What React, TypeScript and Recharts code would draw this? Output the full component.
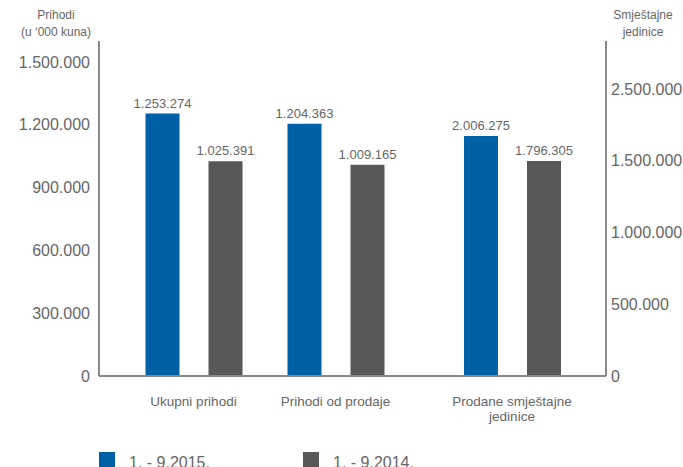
import { BarChart, Bar, XAxis, YAxis, Legend, LabelList, Text } from "recharts"

// Kategorije i vrijednosti (prihodi u '000 kuna, smještajne jedinice)
const categories = ["Ukupni prihodi", "Prihodi od prodaje", "Prodane smještajne jedinice"]
const revenue2015 = [1253274, 1204363, null]
const revenue2014 = [1025391, 1009165, null]
const units2015 = [null, null, 2006275]
const units2014 = [null, null, 1796305]
const seriesNames = ["1. - 9.2015.", "1. - 9.2014."]

const leftTicks = [0, 300000, 600000, 900000, 1200000, 1500000]
const rightTicks = [0, 600000, 1200000, 1800000, 2400000]
const rightTickLabels = ["0", "500.000", "1.000.000", "1.500.000", "2.500.000"]

const data = categories.map((name, i) => ({
  name,
  rev2015: revenue2015[i],
  rev2014: revenue2014[i],
  units2015: units2015[i],
  units2014: units2014[i],
}))

const FONT = '"Liberation Sans", Arial, sans-serif'
const TEXT = "#666"
const AXIS = "#888"
const BLUE = "#0060a6"
const GRAY = "#58585a"

const fmt = (v: number | null | undefined) =>
  v == null ? "" : String(v).replace(/\B(?=(\d{3})+(?!\d))/g, ".")

function CategoryTick(props: any) {
  const { x, y, payload, values } = props
  const i = categories.indexOf(payload.value)
  if (values[i] == null) return null
  return (
    <Text
      x={x}
      y={y}
      width={150}
      textAnchor="middle"
      verticalAnchor="start"
      lineHeight={15}
      fill={TEXT}
      style={{ fontSize: 13.5, fontFamily: FONT }}
    >
      {payload.value}
    </Text>
  )
}

function LegendContent(props: any) {
  const items = (props.payload || [])
    .filter((e: any) => seriesNames.includes(e.value))
    .sort((a: any, b: any) => seriesNames.indexOf(a.value) - seriesNames.indexOf(b.value))
  return (
    <div style={{ display: "flex", fontFamily: FONT, fontSize: 16, color: TEXT }}>
      {items.map((e: any) => (
        <div key={e.value} style={{ display: "flex", alignItems: "flex-start", width: 204 }}>
          <span style={{ width: 16, height: 16, background: e.color, marginRight: 14, flex: "none" }} />
          <span style={{ paddingTop: 2, lineHeight: "18px" }}>{e.value}</span>
        </div>
      ))}
    </div>
  )
}

export default function App() {
  return (
    <div
      style={{
        position: "absolute",
        left: 0,
        top: 0,
        width: 683,
        height: 467,
        overflow: "hidden",
        background: "#fff",
        fontFamily: FONT,
      }}
    >
      <div style={{ position: "absolute", left: 0, top: 7, width: 112, textAlign: "center", fontSize: 12, lineHeight: "17px", color: TEXT }}>
        Prihodi
        <br />
        (u ‘000 kuna)
      </div>
      <div style={{ position: "absolute", left: 603, top: 7, width: 80, textAlign: "center", fontSize: 12, lineHeight: "17px", color: TEXT }}>
        Smještajne
        <br />
        jedinice
      </div>

      <BarChart
        width={683}
        height={467}
        data={data}
        margin={{ top: 41, right: 1, left: 9, bottom: 89 }}
        barGap={29}
      >
        <XAxis
          xAxisId="rev"
          dataKey="name"
          height={1}
          padding={{ left: 23.5, right: 57.5 }}
          axisLine={{ stroke: AXIS, strokeWidth: 2 }}
          tickLine={false}
          tickSize={0}
          tickMargin={20}
          interval={0}
          tick={(p: any) => <CategoryTick {...p} values={revenue2015} />}
        />
        <XAxis
          xAxisId="units"
          dataKey="name"
          height={1}
          padding={{ left: 58, right: 23 }}
          axisLine={false}
          tickLine={false}
          tickSize={0}
          tickMargin={19}
          interval={0}
          tick={(p: any) => <CategoryTick {...p} values={units2015} />}
        />
        <YAxis
          yAxisId="left"
          width={90}
          domain={[0, 1600000]}
          ticks={leftTicks}
          interval={0}
          axisLine={{ stroke: AXIS, strokeWidth: 2 }}
          tickLine={false}
          tickSize={0}
          tickMargin={9}
          tick={{ fill: TEXT, fontSize: 16, fontFamily: FONT }}
          tickFormatter={(v: number) => fmt(v)}
        />
        <YAxis
          yAxisId="right"
          orientation="right"
          width={76}
          domain={[0, 2800000]}
          ticks={rightTicks}
          interval={0}
          axisLine={{ stroke: AXIS, strokeWidth: 2 }}
          tickLine={false}
          tickSize={0}
          tickMargin={5}
          tick={{ fill: TEXT, fontSize: 16, fontFamily: FONT }}
          tickFormatter={(v: number) => rightTickLabels[rightTicks.indexOf(v)]}
        />
        <Legend
          layout="horizontal"
          verticalAlign="middle"
          align="center"
          wrapperStyle={{ top: 452, left: 99, width: "auto", height: "auto" }}
          content={(p: any) => <LegendContent {...p} />}
        />
        <Bar xAxisId="rev" yAxisId="left" dataKey="rev2015" name={seriesNames[0]} fill={BLUE} barSize={34} isAnimationActive={false}>
          <LabelList dataKey="rev2015" position="top" offset={6} formatter={fmt} fill={TEXT} fontSize={13} fontFamily={FONT} />
        </Bar>
        <Bar xAxisId="rev" yAxisId="left" dataKey="rev2014" name={seriesNames[1]} fill={GRAY} barSize={34} isAnimationActive={false}>
          <LabelList dataKey="rev2014" position="top" offset={6} formatter={fmt} fill={TEXT} fontSize={13} fontFamily={FONT} />
        </Bar>
        <Bar xAxisId="units" yAxisId="right" dataKey="units2015" legendType="none" fill={BLUE} barSize={34} isAnimationActive={false}>
          <LabelList dataKey="units2015" position="top" offset={6} formatter={fmt} fill={TEXT} fontSize={13} fontFamily={FONT} />
        </Bar>
        <Bar xAxisId="units" yAxisId="right" dataKey="units2014" legendType="none" fill={GRAY} barSize={34} isAnimationActive={false}>
          <LabelList dataKey="units2014" position="top" offset={6} formatter={fmt} fill={TEXT} fontSize={13} fontFamily={FONT} />
        </Bar>
      </BarChart>
    </div>
  )
}
